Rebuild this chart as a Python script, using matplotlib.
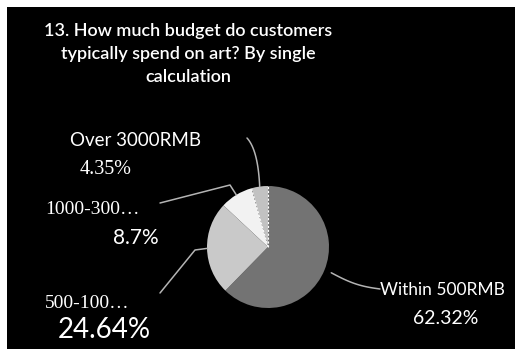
import numpy as np
import matplotlib
matplotlib.use("Agg")
import matplotlib.pyplot as plt

# 預算分布 (單次計算)
labels = ["Within 500RMB", "500-100\u2026", "1000-300\u2026", "Over 3000RMB"]
shares = [62.32, 24.64, 8.7, 4.35]
colors = ["#737373", "#c9c9c9", "#f2f2f2", "#c2c2c2"]
title = "13. How much budget do customers\ntypically spend on art? By single\ncalculation"

W, H = 515, 349
cx, cy, r = 268, H - 247, 61

fig = plt.figure(figsize=(W / 100, H / 100), dpi=100, facecolor="white")
ax = fig.add_axes([7 / W, 0, 1 - 7 / W, 1 - 7 / H])
ax.set_facecolor("black")

wedges, _ = ax.pie(shares, colors=colors, startangle=90, counterclock=False,
                   center=(cx, cy), radius=r, frame=True,
                   wedgeprops=dict(edgecolor="none"))
ax.set_xlim(7, W)
ax.set_ylim(0, H - 7)
ax.set_xticks([])
ax.set_yticks([])
for s in ax.spines.values():
    s.set_visible(False)

# 小扇區邊界畫成虛線
w = wedges[3]
for ang in (w.theta1, w.theta2):
    a = np.deg2rad(ang)
    ax.plot([cx, cx + r * np.cos(a)], [cy, cy + r * np.sin(a)],
            color="white", lw=0.8, ls=(0, (2, 1.5)))


def edge_point(wedge, k=1.0):
    a = np.deg2rad((wedge.theta1 + wedge.theta2) / 2)
    return cx + k * r * np.cos(a), cy + k * r * np.sin(a)


line_kw = dict(color="#b4b4b4", lw=1.1, solid_capstyle="round")

# Within 500RMB
x0, y0 = edge_point(wedges[0], 1.12)
t = np.linspace(0, 1, 20)
xs = x0 + (380 - x0) * t
ys = y0 + ((H - 289) - y0) * t - 3 * np.sin(np.pi * t)
ax.plot(xs, ys, **line_kw)

# 500-1000
x0, y0 = edge_point(wedges[1])
ax.plot([x0, 195, 160], [y0, H - 250, H - 293], **line_kw)

# 1000-3000
x0, y0 = edge_point(wedges[2])
ax.plot([x0, 230, 160], [y0, H - 185, H - 203], **line_kw)

# Over 3000RMB
x0, y0 = edge_point(wedges[3])
p1 = (258, H - 150)
p2 = (247, H - 138)
xs = (1 - t) ** 2 * x0 + 2 * (1 - t) * t * p1[0] + t ** 2 * p2[0]
ys = (1 - t) ** 2 * y0 + 2 * (1 - t) * t * p1[1] + t ** 2 * p2[1]
ax.plot(xs, ys, **line_kw)

sans = ["Lato", "DejaVu Sans"]
serif = ["Liberation Serif", "DejaVu Serif"]

ax.text(188, H - 54, title, color="white", fontsize=13, family=sans,
        fontweight="semibold", ha="center", va="center", linespacing=1.55)

ax.text(70, H - 140, labels[3], color="white", fontsize=13.5, family=sans,
        ha="left", va="center")
ax.text(80, H - 170, f"{shares[3]}%", color="white", fontsize=14.5, family=serif,
        ha="left", va="center")

ax.text(45, H - 210, labels[2], color="white", fontsize=14, family=serif,
        ha="left", va="center")
ax.text(113, H - 238, f"{shares[2]}%", color="white", fontsize=15, family=sans,
        ha="left", va="center")

ax.text(45, H - 303, labels[1], color="white", fontsize=14, family=serif,
        ha="left", va="center")
ax.text(58, H - 330, f"{shares[1]}%", color="white", fontsize=20, family=sans,
        ha="left", va="center")

ax.text(380, H - 290, labels[0], color="white", fontsize=12.5, family=sans,
        ha="left", va="center")
ax.text(413, H - 318, f"{shares[0]}%", color="white", fontsize=14, family=sans,
        ha="left", va="center")

fig.savefig("out.png", dpi=100, facecolor=fig.get_facecolor())
